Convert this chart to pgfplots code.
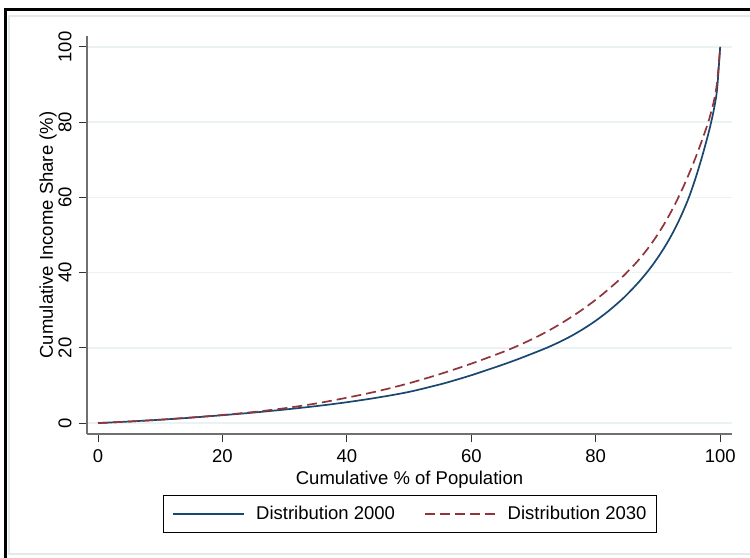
\documentclass[border=0pt]{standalone}
\usepackage{fontspec}
\setmainfont{Liberation Sans}
\usepackage{pgfplots}
\usepackage{pgfplotstable}
\pgfplotsset{compat=1.18}
\definecolor{sblue}{HTML}{1A476F}
\definecolor{sred}{HTML}{90353B}
\definecolor{gridc}{HTML}{EAF2F3}
\definecolor{framec}{HTML}{E3EAEC}
\definecolor{axc}{HTML}{707070}

\pgfplotstableread{
x y
0 0
5 0.42
10 0.9
15 1.45
20 2.1
25 2.8
30 3.6
35 4.5
40 5.55
45 6.8
50 8.3
55 10.3
57.4 11.42
60 12.72
62.5 14.1
65 15.5
67.5 17.0
70 18.6
72.1 20.0
74 21.42
76 23.1
78 25.03
80 27.22
82 29.72
84 32.56
85 34.15
86 35.85
87 37.65
88 39.6
89 41.72
90 44.05
91 46.6
92 49.42
93 52.57
94 56.12
95 60.12
96 64.9
97 70.3
98 76.3
98.55 80.0
99 83.5
99.5 88.7
100 100
}\dataA

\pgfplotstableread{
x y
0 0
5 0.42
10 0.9
15 1.5
20 2.15
25 2.95
30 3.95
35 5.2
40 6.75
45 8.5
50 10.6
55 13.05
60 15.8
65 18.85
66.7 20.0
68 20.94
70 22.5
72 24.19
74 26.06
76 28.12
78 30.35
80 32.8
82 35.5
84 38.42
85 40.05
86 41.74
87 43.58
88 45.61
89 47.83
90 50.26
91 52.92
92 55.85
93 59.05
94 62.53
95 66.31
96 70.39
97 74.81
98 79.57
98.5 82.4
99 85.7
99.5 90.5
100 100
}\dataB

\begin{document}
\begin{tikzpicture}[font=\fontsize{18.5bp}{22bp}\selectfont]
\fill[white] (0bp,0bp) rectangle (750bp,-558bp);
\draw[black, line width=3bp] (5bp,-590bp) -- (5bp,-9.5bp) -- (790bp,-9.5bp);
\draw[framec, line width=1.5bp] (790bp,-16bp) -- (9bp,-16bp) -- (9bp,-554bp) -- (790bp,-554bp);
\begin{axis}[
  at={(87bp,-434bp)}, anchor=south west,
  scale only axis, width=645bp, height=398bp,
  xmin=-1.77, xmax=101.9, ymin=-2.9, ymax=102.9,
  axis x line*=bottom, axis y line*=left,
  axis line style={axc, line width=1.5bp},
  xtick={0,20,40,60,80,100}, ytick={0,20,40,60,80,100},
  tick align=outside, major tick length=8bp,
  tick style={black!80, line width=1bp},
  ymajorgrids, grid style={gridc, line width=1.5bp},
  /pgf/number format/assume math mode=true,
  xticklabel style={anchor=north, inner sep=0pt},
  xticklabel shift=7.7bp,
  yticklabel style={rotate=90, anchor=base, inner sep=0pt},
  yticklabel shift=7.6bp,
  xlabel={Cumulative \% of Population},
  ylabel={Cumulative Income Share (\%)},
  xlabel style={at={([yshift=-50bp]axis description cs:0.5,0)}, anchor=base, inner sep=0pt},
  ylabel style={at={([xshift=-34bp]axis description cs:0,0.5)}, rotate=0, anchor=base, inner sep=0pt},
  legend columns=2,
  legend image code/.code={\draw[#1] (0bp,0bp) -- (71bp,0bp);},
  legend style={at={([yshift=-61bp]axis description cs:0.5,0)}, anchor=north,
    draw=black, line width=0.8bp, inner xsep=9.5bp, inner ysep=11bp,
    nodes={inner sep=0pt},
    /tikz/every odd column/.append style={column sep=11bp},
    /tikz/every even column/.append style={column sep=29bp}},
  legend cell align=left,
]
\addplot[sblue, line width=1.7bp, smooth] table[x=x,y=y] {\dataA};
\addlegendentry{Distribution 2000}
\addplot[sred, line width=1.7bp, smooth, dash pattern=on 10bp off 5bp] table[x=x,y=y] {\dataB};
\addlegendentry{Distribution 2030}
\end{axis}
\pgfresetboundingbox
\path[use as bounding box] (0bp,0bp) rectangle (750bp,-558bp);
\end{tikzpicture}
\end{document}
